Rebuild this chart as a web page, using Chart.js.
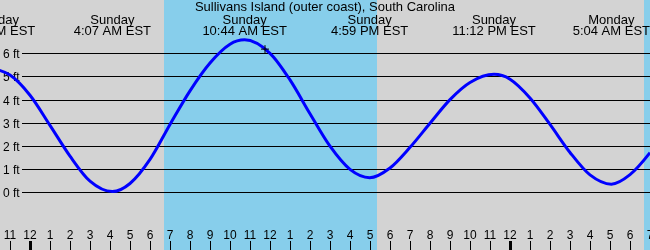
<!DOCTYPE html>
<html>
<head>
<meta charset="utf-8">
<script src="https://cdn.jsdelivr.net/npm/chart.js@4/dist/chart.umd.min.js"></script>
<style>
  body { margin: 0; background: #d3d3d3; }
  #wrap { width: 650px; height: 250px; }
</style>
</head>
<body>
<div id="wrap"><canvas id="tideChart" width="650" height="250"></canvas></div>
<script>
'use strict';

// hours counted from Sunday midnight, heights in feet
// (hourly readings plus the high / low tide times)
let tideHours = [-2.7, -1.85, -1, 0, 1, 2, 3, 4.117, 5, 6, 7, 8, 9, 10, 10.733, 12, 13, 14,
  15, 16, 16.983, 18, 19, 20, 21, 22, 23.2, 24, 25, 26, 27, 28, 29.067, 30, 31, 32];
let tideFeet = [5.24, 5.3, 5.06, 4.19, 2.89, 1.56, 0.48, 0.03, 0.38, 1.42, 2.93, 4.38, 5.58,
  6.39, 6.58, 6.0, 4.85, 3.39, 1.99, 0.99, 0.63, 1.05, 1.94, 2.98, 4.0, 4.74, 5.09,
  4.88, 4.07, 2.93, 1.72, 0.75, 0.35, 0.76, 1.71, 2.97];

// high / low tide events shown across the top
let eventHours = [-1.85, 4.117, 10.733, 16.983, 23.2, 29.067];
let eventDays = ['Saturday', 'Sunday', 'Sunday', 'Sunday', 'Sunday', 'Monday'];
let eventTimes = ['10:09 PM EST', '4:07 AM EST', '10:44 AM EST', '4:59 PM EST', '11:12 PM EST', '5:04 AM EST'];

// daylight periods (sunrise, sunset)
let sunrise = [6.7, 30.7];
let sunset = [17.33, 41.33];

// current time marker
let nowHour = [11.75];
let nowFeet = [6.18];

// axis labels
let feetTicks = [0, 1, 2, 3, 4, 5, 6];
let tickHours = [-1, 0, 1, 2, 3, 4, 5, 6, 7, 8, 9, 10, 11, 12, 13, 14, 15, 16, 17, 18, 19, 20,
  21, 22, 23, 24, 25, 26, 27, 28, 29, 30, 31];
let tickLabels = ['11', '12', '1', '2', '3', '4', '5', '6', '7', '8', '9', '10', '11', '12', '1', '2',
  '3', '4', '5', '6', '7', '8', '9', '10', '11', '12', '1', '2', '3', '4', '5', '6', '7'];

let title = 'Sullivans Island (outer coast), South Carolina';
let fontName = "'Liberation Sans', Arial, sans-serif";

let tidePoints = [];
for (let i = 0; i < tideHours.length; i++) {
  tidePoints.push({ x: tideHours[i], y: tideFeet[i] });
}
let nowPoints = [];
for (let i = 0; i < nowHour.length; i++) {
  nowPoints.push({ x: nowHour[i], y: nowFeet[i] });
}

// background, daylight bands and the foot lines
const backdrop = {
  id: 'backdrop',
  beforeDatasetsDraw(chart) {
    const ctx = chart.ctx;
    const x = chart.scales.x;
    const y = chart.scales.y;
    const area = chart.chartArea;
    ctx.save();
    ctx.fillStyle = '#d3d3d3';
    ctx.fillRect(0, 0, chart.width, chart.height);

    ctx.fillStyle = '#87ceeb';
    for (let i = 0; i < sunrise.length; i++) {
      let x1 = Math.round(x.getPixelForValue(sunrise[i]));
      let x2 = Math.round(x.getPixelForValue(sunset[i]));
      ctx.fillRect(x1, 0, x2 - x1, chart.height);
    }

    ctx.font = '12px ' + fontName;
    ctx.textAlign = 'left';
    ctx.textBaseline = 'alphabetic';
    for (let i = 0; i < feetTicks.length; i++) {
      let py = Math.round(y.getPixelForValue(feetTicks[i])) + 0.5;
      ctx.strokeStyle = '#000';
      ctx.lineWidth = 1;
      ctx.beginPath();
      ctx.moveTo(22, py);
      ctx.lineTo(area.right, py);
      ctx.stroke();
      ctx.fillStyle = '#000';
      ctx.fillText(feetTicks[i] + ' ft', 3, py + 4);
    }
    ctx.restore();
  },
  afterDatasetsDraw(chart) {
    const ctx = chart.ctx;
    const x = chart.scales.x;
    ctx.save();
    ctx.fillStyle = '#000';
    ctx.strokeStyle = '#000';
    ctx.textAlign = 'center';
    ctx.textBaseline = 'alphabetic';

    // hour ticks along the bottom
    ctx.font = '12px ' + fontName;
    for (let i = 0; i < tickHours.length; i++) {
      let px = Math.round(x.getPixelForValue(tickHours[i]));
      let midnight = (tickHours[i] % 24) === 0;
      ctx.fillRect(midnight ? px - 1 : px, 241, midnight ? 3 : 1, 9);
      ctx.fillText(tickLabels[i], px, 239);
    }

    // tide events across the top
    ctx.font = '13px ' + fontName;
    for (let i = 0; i < eventHours.length; i++) {
      let px = x.getPixelForValue(eventHours[i]);
      ctx.fillText(eventDays[i], px, 24);
      ctx.fillText(eventTimes[i], px, 35);
    }
    ctx.fillText(title, chart.width / 2, 11);
    ctx.restore();
  }
};

const ctx = document.getElementById('tideChart').getContext('2d');

const tideChart = new Chart(ctx, {
  type: 'line',
  data: {
    datasets: [
      {
        label: 'now',
        data: nowPoints,
        showLine: false,
        pointStyle: 'cross',
        pointRadius: 4,
        pointBorderColor: '#000',
        pointBorderWidth: 1
      },
      {
        label: 'tide',
        data: tidePoints,
        borderColor: '#0000ff',
        borderWidth: 3,
        pointRadius: 0,
        cubicInterpolationMode: 'monotone',
        fill: false
      }
    ]
  },
  options: {
    responsive: false,
    animation: false,
    layout: { padding: 0, autoPadding: false },
    plugins: {
      legend: { display: false },
      tooltip: { enabled: false }
    },
    scales: {
      x: { type: 'linear', display: false, min: -1.5, max: 31 },
      y: { type: 'linear', display: false, min: -2.49, max: 8.3 }
    }
  },
  plugins: [backdrop]
});
</script>
</body>
</html>
